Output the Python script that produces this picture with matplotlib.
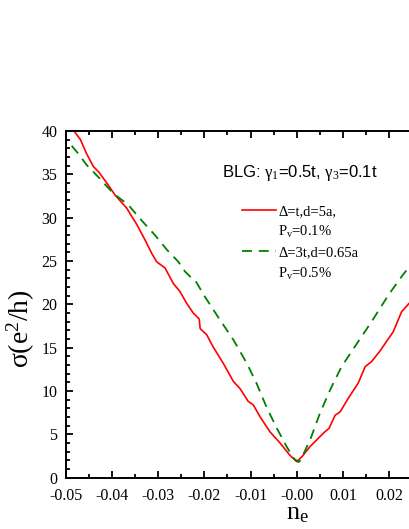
import matplotlib

matplotlib.use("Agg")
import matplotlib.pyplot as plt
from matplotlib.lines import Line2D
from matplotlib.ticker import FormatStrFormatter, MultipleLocator

# carrier density n_e and conductivity sigma (e^2/h)
ne_red = [-0.0482, -0.0468, -0.0455, -0.0440, -0.0429, -0.0411, -0.0393, -0.0368,
          -0.0346, -0.0328, -0.0314, -0.0303, -0.0285, -0.0267, -0.0253, -0.0238,
          -0.0224, -0.0211, -0.0209, -0.0195, -0.0181, -0.0159, -0.0137, -0.0123,
          -0.0105, -0.0094, -0.0079, -0.0058, -0.0036, -0.0015, 0.0, 0.0011,
          0.0029, 0.0044, 0.0061, 0.0070, 0.0083, 0.0094, 0.0112, 0.0133,
          0.0148, 0.0162, 0.0180, 0.0209, 0.0227, 0.0243]
sigma_red = [40.0, 39.0, 37.4, 35.9, 35.3, 34.0, 32.6, 31.1,
             29.2, 27.4, 25.9, 24.9, 24.2, 22.4, 21.5, 20.1,
             19.0, 18.3, 17.2, 16.5, 15.1, 13.2, 11.1, 10.3,
             8.8, 8.4, 7.0, 5.3, 4.0, 2.6, 1.85, 2.4,
             3.6, 4.4, 5.3, 5.7, 7.2, 7.6, 9.2, 10.9,
             12.8, 13.4, 14.6, 16.85, 19.15, 20.1]

ne_green = [-0.0487, -0.0473, -0.0455, -0.0426, -0.0397, -0.0365, -0.0336, -0.0307,
            -0.0281, -0.0256, -0.0242, -0.0227, -0.0220, -0.0199, -0.0166, -0.0137,
            -0.0108, -0.0087, -0.0065, -0.0043, -0.0022, -0.0006, 0.0004, 0.0008,
            0.0029, 0.0050, 0.0072, 0.0097, 0.0123, 0.0162, 0.0200, 0.0227, 0.0243]
sigma_green = [38.3, 37.4, 36.1, 34.5, 32.8, 31.5, 29.7, 28.0,
               26.3, 24.9, 23.8, 23.0, 22.8, 20.9, 18.2, 15.9,
               13.2, 10.9, 8.1, 5.7, 3.6, 2.2, 1.8, 2.0,
               4.35, 7.4, 10.1, 12.8, 14.9, 18.0, 21.2, 23.2, 24.3]

label_red = ["\u0394=t,d=5a,", "P$_\\mathrm{v}$=0.1%"]
label_green = ["\u0394=3t,d=0.65a", "P$_\\mathrm{v}$=0.5%"]

plt.rcParams["font.family"] = "Liberation Serif"
plt.rcParams["mathtext.fontset"] = "custom"
plt.rcParams["mathtext.rm"] = "Liberation Serif"
plt.rcParams["mathtext.it"] = "Liberation Serif"
plt.rcParams["mathtext.bf"] = "Liberation Serif:bold"
plt.rcParams["axes.unicode_minus"] = False

fig = plt.figure(figsize=(4.09, 5.29), dpi=100)
ax = fig.add_axes([0.1606, 0.097, 0.8394, 0.6554])

green_dash = (0, (5.5, 3.8))
ax.plot(ne_red, sigma_red, color="red", lw=1.2)
ax.plot(ne_green, sigma_green, color="green", lw=1.3, linestyle=green_dash)

ax.set_xlim(-0.05, 0.0243)
ax.set_ylim(0, 40)
ax.xaxis.set_major_locator(MultipleLocator(0.01))
ax.xaxis.set_minor_locator(MultipleLocator(0.005))
ax.yaxis.set_major_locator(MultipleLocator(5))
ax.yaxis.set_minor_locator(MultipleLocator(1))
ax.xaxis.set_major_formatter(FormatStrFormatter("%.2f"))

ax.spines["right"].set_visible(False)
for side in ["left", "bottom", "top"]:
    ax.spines[side].set_linewidth(1.4)
ax.tick_params(which="both", direction="in", top=True, right=False, width=1.3,
               labelsize=11.5)
ax.tick_params(which="major", length=5, pad=6)
ax.tick_params(axis="x", which="major", pad=7.5)
ax.tick_params(which="minor", length=2.8)

ax.set_xlabel("n$_\\mathrm{e}$", fontsize=19)
ax.xaxis.set_label_coords(0.674, -0.074)
fig.text(0.052, 1 - 329 / 529, "\u03c3(e$^2$/h)", fontsize=20, rotation=90,
         ha="center", va="center")

ax.text(0.455, 0.879, "BLG: $\\gamma_1$=0.5t, $\\gamma_3$=0.1t",
        family="Liberation Sans", fontsize=12, transform=ax.transAxes,
        ha="left", va="center")

blank = Line2D([], [], color="none")
handles = [Line2D([], [], color="red", lw=1.2), blank,
           Line2D([], [], color="green", lw=1.3, linestyle=green_dash), blank]
labels = [label_red[0], label_red[1], label_green[0], label_green[1]]
ax.legend(handles, labels, loc="upper left", bbox_to_anchor=(0.513, 0.787),
          frameon=False, fontsize=10.5, handlelength=2.35, handletextpad=0.15,
          labelspacing=0.42, borderpad=0, borderaxespad=0)

fig.savefig("out.png", dpi=100)
